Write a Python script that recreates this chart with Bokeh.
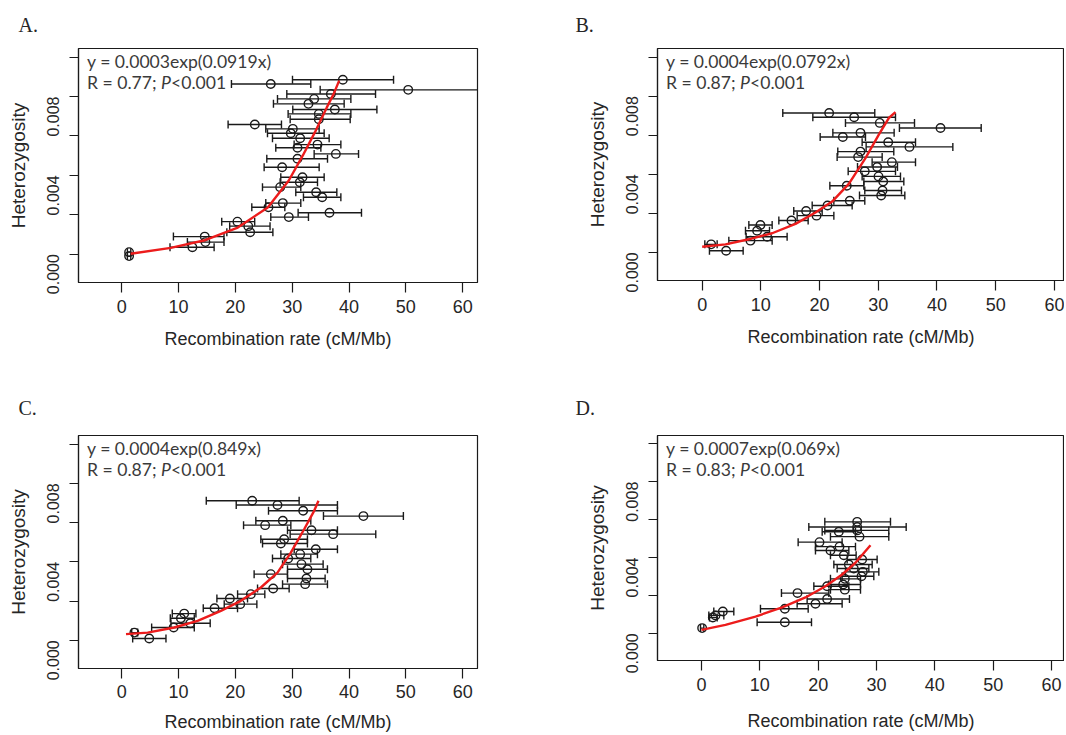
import math
from bokeh.plotting import figure
from bokeh.layouts import column, row
from bokeh.models import (ColumnDataSource, Whisker, TeeHead, FixedTicker,
                          PrintfTickFormatter, Label, Range1d, Title)
from bokeh.embed import file_html
from bokeh.resources import INLINE

# ---------------- data ----------------
x_ticks = [0, 10, 20, 30, 40, 50, 60]
y_ticks = [0.0, 0.002, 0.004, 0.006, 0.008, 0.010]
y_tick_labels = {0.0: "0.000", 0.002: "", 0.004: "0.004", 0.006: "", 0.008: "0.008", 0.010: ""}
x_title = "Recombination rate (cM/Mb)"
y_title = "Heterozygosity"

# Panel A
a_x = [26.23, 38.91, 50.41, 36.8, 33.86, 32.86, 37.5, 34.68, 34.68, 23.42, 30.11, 29.75,
       31.4, 34.45, 30.93, 37.68, 30.93, 28.23, 31.81, 31.34, 27.88, 34.21, 35.27, 28.35,
       25.82, 36.56, 29.4, 20.36, 22.27, 22.6, 14.61, 14.73, 12.44, 1.3, 1.3]
a_y = [0.00864, 0.00885, 0.00834, 0.00813, 0.00788, 0.00763, 0.00734, 0.00712, 0.00685,
       0.00658, 0.00636, 0.00614, 0.00588, 0.00556, 0.0054, 0.00509, 0.00484, 0.00441,
       0.0039, 0.00365, 0.0034, 0.00314, 0.00289, 0.00259, 0.00238, 0.0021, 0.00188,
       0.00165, 0.00142, 0.00111, 0.00089, 0.00061, 0.00035, 0.0001, -0.0001]
a_lo = [19.31, 30.05, 34.92, 29.05, 27.41, 26.7, 30.1, 29.28, 29.64, 18.72, 25.35, 25.65,
        26.53, 30.34, 27.11, 33.86, 25.53, 25.06, 27.99, 27.88, 24.77, 30.63, 31.98, 25.35,
        22.89, 31.04, 26.23, 17.6, 19.0, 18.5, 9.1, 11.56, 8.5, 1.0, 1.0]
a_hi = [33.27, 47.83, 65.9, 44.66, 40.32, 39.14, 44.9, 40.32, 40.2, 28.11, 34.74, 35.62,
        36.5, 38.56, 35.04, 41.67, 36.21, 34.74, 35.62, 34.45, 31.51, 37.85, 38.56, 31.51,
        28.7, 42.19, 32.86, 23.4, 26.1, 26.6, 18.0, 18.0, 16.26, 1.6, 1.6]
a_fit_x = [1.58, 8.63, 14.44, 20.42, 25.7, 29.4, 31.87, 33.98, 36.09, 37.32, 38.26]
a_fit_y = [0.00002, 0.00032, 0.00069, 0.00135, 0.00237, 0.00374, 0.00501, 0.00618,
           0.00745, 0.00815, 0.00881]
a_eq = "y = 0.0003exp(0.0919x)"
a_r = "R = 0.77;"

# Panel B
b_x = [21.63, 25.89, 30.26, 40.6, 26.97, 23.96, 31.69, 35.31, 26.97, 26.57, 32.31, 29.81,
       27.7, 30.04, 30.84, 24.63, 30.72, 30.49, 25.15, 21.35, 17.71, 19.48, 15.21, 9.93,
       9.36, 11.07, 8.23, 1.53, 4.08]
b_y = [0.00714, 0.00692, 0.00663, 0.00637, 0.00612, 0.00591, 0.00564, 0.0054, 0.00516,
       0.00488, 0.00462, 0.00437, 0.00415, 0.00389, 0.00363, 0.00341, 0.00317, 0.00291,
       0.00264, 0.0024, 0.00212, 0.00188, 0.00163, 0.0014, 0.00111, 0.0008, 0.0006,
       0.00041, 0.00008]
b_lo = [13.73, 18.85, 24.41, 33.6, 22.26, 20.1, 27.25, 27.93, 23.1, 22.99, 28.95, 26.46,
        24.87, 27.25, 27.54, 21.75, 27.7, 26.8, 22.43, 18.74, 15.6, 16.18, 13.06, 7.95,
        7.38, 7.49, 4.54, 0.45, 1.24]
b_hi = [29.4, 32.93, 36.17, 47.53, 32.7, 27.82, 36.34, 42.7, 32.64, 30.66, 36.34, 33.27,
        32.93, 33.78, 34.35, 27.54, 33.95, 34.52, 27.7, 25.55, 20.44, 22.43, 18.05, 11.92,
        11.47, 14.47, 11.92, 2.55, 6.98]
b_fit_x = [0.0, 3.97, 7.95, 11.92, 15.9, 19.3, 22.14, 24.98, 27.82, 30.09, 31.79, 32.93]
b_fit_y = [0.00029, 0.00041, 0.00067, 0.00098, 0.00146, 0.00204, 0.0026, 0.00351,
           0.00483, 0.00603, 0.00688, 0.00718]
b_eq = "y = 0.0004exp(0.0792x)"
b_r = "R = 0.87;"

# Panel C
c_x = [22.96, 27.41, 31.93, 42.53, 28.35, 25.24, 33.39, 37.2, 28.58, 28.0, 34.15, 31.4,
       29.29, 31.63, 32.68, 26.24, 32.5, 32.28, 26.65, 22.72, 19.03, 20.85, 16.34, 11.0,
       10.42, 12.06, 9.14, 2.23, 4.85]
c_y = [0.00711, 0.0069, 0.0066, 0.00633, 0.00609, 0.00587, 0.00561, 0.00541, 0.00515,
       0.00493, 0.00464, 0.00439, 0.00417, 0.00388, 0.00362, 0.00337, 0.00315, 0.00286,
       0.00264, 0.00235, 0.00213, 0.00184, 0.00163, 0.00136, 0.00112, 0.00087, 0.00065,
       0.00039, 0.00009]
c_lo = [14.88, 20.15, 25.83, 35.5, 23.6, 21.44, 29.17, 29.64, 24.48, 24.78, 30.35, 28.0,
        26.53, 28.3, 29.17, 23.3, 29.17, 28.3, 23.9, 20.39, 16.75, 18.04, 14.35, 8.9,
        8.55, 8.67, 5.27, 1.76, 1.93]
c_hi = [31.22, 37.96, 37.96, 49.56, 33.27, 29.76, 37.96, 44.7, 32.68, 32.68, 37.96, 34.44,
        33.27, 35.44, 36.2, 29.17, 35.79, 36.2, 29.46, 25.18, 22.14, 23.78, 20.38, 13.06,
        12.77, 15.57, 12.77, 2.81, 7.79]
c_fit_x = [0.76, 4.56, 9.25, 13.35, 17.45, 20.97, 24.48, 27.41, 29.76, 32.1, 33.86, 34.62]
c_fit_y = [0.00031, 0.00039, 0.00065, 0.00099, 0.0015, 0.00201, 0.00269, 0.00345,
           0.00447, 0.00566, 0.0066, 0.00711]
c_eq = "y = 0.0004exp(0.849x)"
c_r = "R = 0.87;"

# Panel D
d_x = [26.69, 26.69, 26.69, 23.54, 27.09, 20.23, 23.66, 22.11, 24.4, 27.54, 25.26, 26.11,
       27.66, 27.43, 24.57, 24.29, 21.54, 24.57, 16.46, 21.54, 19.54, 14.29, 14.29, 3.66,
       2.4, 1.94, 0.11]
d_y = [0.00588, 0.00561, 0.00543, 0.00536, 0.0051, 0.00481, 0.00457, 0.00437, 0.00412,
       0.00389, 0.00363, 0.00342, 0.00324, 0.00301, 0.00287, 0.00257, 0.00248, 0.0023,
       0.00212, 0.00181, 0.00156, 0.00129, 0.00058, 0.00115, 0.00094, 0.00083, 0.00027]
d_lo = [21.14, 18.4, 21.14, 20.69, 22.11, 16.57, 19.54, 19.54, 22.11, 24.97, 22.69, 23.26,
        24.69, 24.11, 22.11, 21.83, 19.26, 22.11, 13.71, 18.11, 16.4, 10.11, 9.54, 2.11,
        1.26, 1.37, -0.17]
d_hi = [32.4, 35.09, 32.11, 26.4, 32.11, 24.11, 26.4, 25.26, 26.51, 30.11, 29.26, 28.69,
        30.4, 29.54, 27.26, 27.26, 25.26, 27.26, 21.83, 25.37, 24.11, 18.29, 18.86, 5.54,
        3.83, 2.69, 0.4]
d_fit_x = [0.0, 4.11, 9.26, 13.83, 17.83, 21.26, 24.11, 26.4, 28.97]
d_fit_y = [0.00018, 0.00044, 0.00088, 0.00136, 0.00189, 0.00248, 0.0031, 0.00372, 0.00465]
d_eq = "y = 0.0007exp(0.069x)"
d_r = "R = 0.83;"

# ---------------- styling ----------------
INK = "#1a1a1a"
TXT = "#262626"
EQ = "#3a3a3a"
RED = "#ec1c1c"
AX_FONT = "Liberation Sans"


def make_panel(letter, xs, ys, lo, hi, fx, fy, eq, rtxt, x_start, x_end,
               fw, fh, bl, bt, br, bb, letter_dx, letter_standoff,
               x_std=7, x_title_std=13):
    y0, y1 = -0.00144, 0.01044
    p = figure(frame_width=fw, frame_height=fh,
               x_range=Range1d(x_start, x_end), y_range=Range1d(y0, y1),
               output_backend="svg", toolbar_location=None,
               min_border_left=bl, min_border_top=bt, min_border_right=br,
               min_border_bottom=bb)
    p.title = Title(text=letter, align="left", offset=letter_dx,
                    standoff=letter_standoff, vertical_align="top",
                    text_font="Liberation Serif",
                    text_font_size="20px", text_font_style="normal",
                    text_color=TXT)
    p.grid.visible = False
    p.background_fill_color = "white"
    p.border_fill_color = "white"
    p.outline_line_color = INK
    p.outline_line_width = 1.2

    # x axis
    xa = p.xaxis[0]
    xa.ticker = FixedTicker(ticks=x_ticks)
    xa.major_tick_out = 10
    xa.major_tick_in = 0
    xa.minor_tick_line_color = None
    xa.axis_line_color = INK
    xa.axis_line_width = 1.2
    xa.major_tick_line_color = INK
    xa.major_tick_line_width = 1.2
    xa.major_label_text_font = AX_FONT
    xa.major_label_text_font_size = "18px"
    xa.major_label_text_color = TXT
    xa.major_label_standoff = x_std
    xa.axis_label = x_title
    xa.axis_label_text_font = AX_FONT
    xa.axis_label_text_font_size = "18px"
    xa.axis_label_text_font_style = "normal"
    xa.axis_label_text_color = TXT
    xa.axis_label_standoff = x_title_std

    # y axis
    ya = p.yaxis[0]
    ya.ticker = FixedTicker(ticks=y_ticks)
    ya.formatter = PrintfTickFormatter(format="%.3f")
    ya.major_label_overrides = y_tick_labels
    ya.major_label_orientation = math.pi / 2
    ya.major_tick_out = 9
    ya.major_tick_in = 0
    ya.minor_tick_line_color = None
    ya.axis_line_color = INK
    ya.axis_line_width = 1.2
    ya.major_tick_line_color = INK
    ya.major_tick_line_width = 1.2
    ya.major_label_text_font = AX_FONT
    ya.major_label_text_font_size = "16px"
    ya.major_label_text_color = TXT
    ya.major_label_standoff = 16
    ya.axis_label = y_title
    ya.axis_label_text_font = AX_FONT
    ya.axis_label_text_font_size = "19px"
    ya.axis_label_text_font_style = "normal"
    ya.axis_label_text_color = TXT
    ya.axis_label_standoff = 10

    src = ColumnDataSource(dict(x=xs, y=ys, lo=lo, hi=hi))
    w = Whisker(source=src, base="y", lower="lo", upper="hi", dimension="width",
                line_color=INK, line_width=1.4,
                lower_head=TeeHead(size=8, line_color=INK, line_width=1.4),
                upper_head=TeeHead(size=8, line_color=INK, line_width=1.4))
    p.add_layout(w)
    p.scatter("x", "y", source=src, marker="circle", size=8.5, fill_alpha=0,
              line_color=INK, line_width=1.4)
    p.line(fx, fy, line_color=RED, line_width=2.4)

    # equation texts (anchored to the top-left corner of the frame)
    common = dict(x=x_start, y=y1, text_font="Lato", text_font_size="17.6px",
                  text_color=EQ, text_baseline="middle")
    p.add_layout(Label(text=eq, x_offset=8.5, y_offset=-12.7, **common))
    p.add_layout(Label(text=rtxt, x_offset=8.5, y_offset=-33.7, **common))
    p.add_layout(Label(text="P", x_offset=82.5, y_offset=-33.7,
                       text_font_style="italic", **common))
    p.add_layout(Label(text="<0.001", x_offset=92.5, y_offset=-33.7, **common))
    return p


pA = make_panel("A.", a_x, a_y, a_lo, a_hi, a_fit_x, a_fit_y, a_eq, a_r, -7.6, 62.6,
                399, 234, 78, 48, 51, 96, -60, 22)
pB = make_panel("B.", b_x, b_y, b_lo, b_hi, b_fit_x, b_fit_y, b_eq, b_r, -7.61, 61.72,
                407, 232, 129, 48, 0, 98, -82, 22)
pC = make_panel("C.", c_x, c_y, c_lo, c_hi, c_fit_x, c_fit_y, c_eq, c_r, -7.6, 62.6,
                399, 233, 78, 55, 51, 68, -60, 30, x_std=6, x_title_std=11)
pD = make_panel("D.", d_x, d_y, d_lo, d_hi, d_fit_x, d_fit_y, d_eq, d_r, -7.54, 62.23,
                407, 225, 129, 57, 0, 74, -82, 30, x_title_std=17)

layout = column(row(pA, pB), row(pC, pD))
open("out.html", "w").write(file_html(layout, INLINE))
